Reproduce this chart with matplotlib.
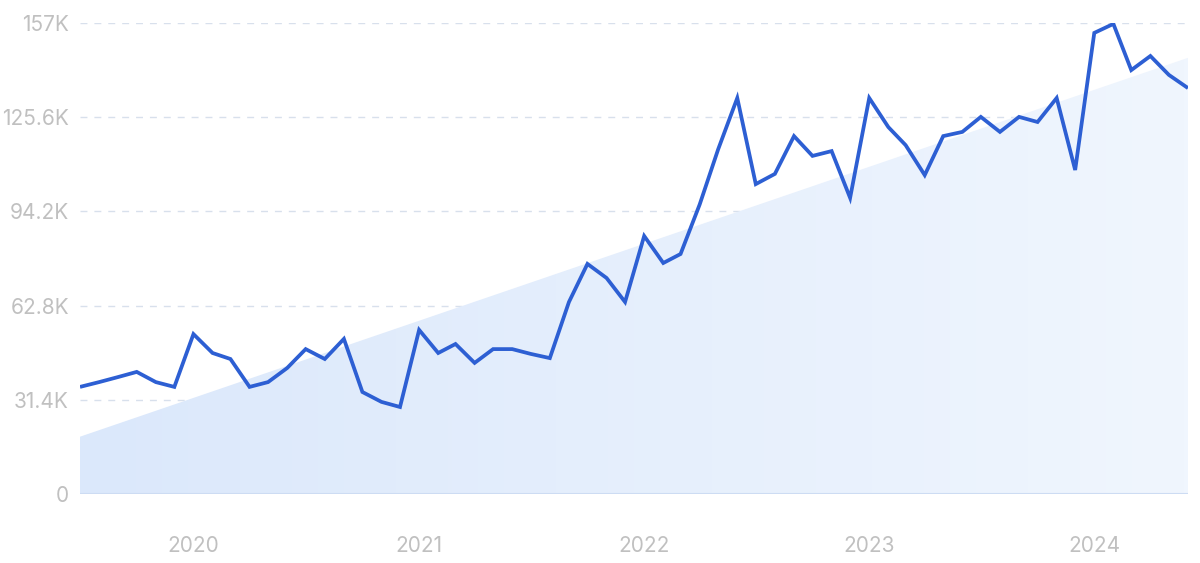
import numpy as np
import pandas as pd
import matplotlib
matplotlib.use("Agg")
import matplotlib.pyplot as plt
import matplotlib.dates as mdates
from matplotlib.colors import LinearSegmentedColormap
from matplotlib.patches import Polygon

# ---- data (thousands) ----
start_month = "2019-07-01"
values = [35.7, 37.3, 39.0, 40.7, 37.3, 35.7,            # Jul-Dec 2019
          53.3, 47.0, 45.0, 35.7, 37.3, 42.0,            # Jan-Jun 2020
          48.3, 45.0, 51.7, 34.0, 30.7, 29.0,            # Jul-Dec 2020
          54.7, 47.0, 50.0, 43.7, 48.3, 48.3,            # Jan-Jun 2021
          46.7, 45.3, 64.0, 76.7, 72.0, 64.0,            # Jul-Dec 2021
          86.0, 77.0, 80.0, 96.5, 114.9, 132.0,          # Jan-Jun 2022
          103.3, 106.7, 119.3, 112.7, 114.3, 98.7,       # Jul-Dec 2022
          132.0, 122.3, 116.3, 106.3, 119.3, 120.7,      # Jan-Jun 2023
          125.7, 120.7, 125.7, 124.0, 132.0, 108.0,      # Jul-Dec 2023
          153.7, 156.7, 141.3, 146.0, 139.7, 135.3]      # Jan-Jun 2024
trend_ends = [19.1, 145.4]
y_ticks = [0, 31.4, 62.8, 94.2, 125.6, 157]
y_tick_labels = ["0", "31.4K", "62.8K", "94.2K", "125.6K", "157K"]
x_tick_years = [2020, 2021, 2022, 2023, 2024]

dates = pd.date_range(start_month, periods=len(values), freq="MS")

plt.rcParams['font.family'] = ['Inter', 'DejaVu Sans']

fig = plt.figure(figsize=(12, 5.63), dpi=100)
ax = fig.add_axes([80/1200, 1-494/563, (1188-80)/1200, (494-23)/563])

xnum = mdates.date2num(dates)
x0, x1 = xnum[0], xnum[-1]

# trend area with horizontal gradient
poly = Polygon([(x0, 0), (x0, trend_ends[0]), (x1, trend_ends[1]), (x1, 0)],
               closed=True, facecolor='none', edgecolor='none')
ax.add_patch(poly)
cmap = LinearSegmentedColormap.from_list("g", ["#dbe8fb", "#f0f6fe"])
grad = np.linspace(0, 1, 256).reshape(1, -1)
im = ax.imshow(grad, extent=[x0, x1, 0, trend_ends[1]], aspect='auto',
               cmap=cmap, origin='lower', zorder=1)
im.set_clip_path(poly)

# grid
for t in y_ticks[1:]:
    ax.axhline(t, color="#d8e0ec", lw=1, ls=(0, (5, 5)), zorder=0.5)
ax.axhline(0, color="#cddcf3", lw=1.5, zorder=2)

ax.plot(dates, values, color="#2d5fd3", lw=2.7, zorder=3,
        solid_joinstyle='miter', solid_capstyle='butt')

ax.set_xlim(x0, x1)
ax.set_ylim(0, 157)
ax.set_yticks(y_ticks)
ax.set_yticklabels(y_tick_labels)
ax.set_xticks([mdates.date2num(pd.Timestamp(f"{y}-01-01")) for y in x_tick_years])
ax.set_xticklabels([str(y) for y in x_tick_years])
ax.tick_params(axis='both', length=0, colors="#c0c0c0", labelsize=15)
ax.tick_params(axis='y', pad=8)
ax.tick_params(axis='x', pad=30)
for s in ax.spines.values():
    s.set_visible(False)

fig.savefig("out.png", dpi=100)
